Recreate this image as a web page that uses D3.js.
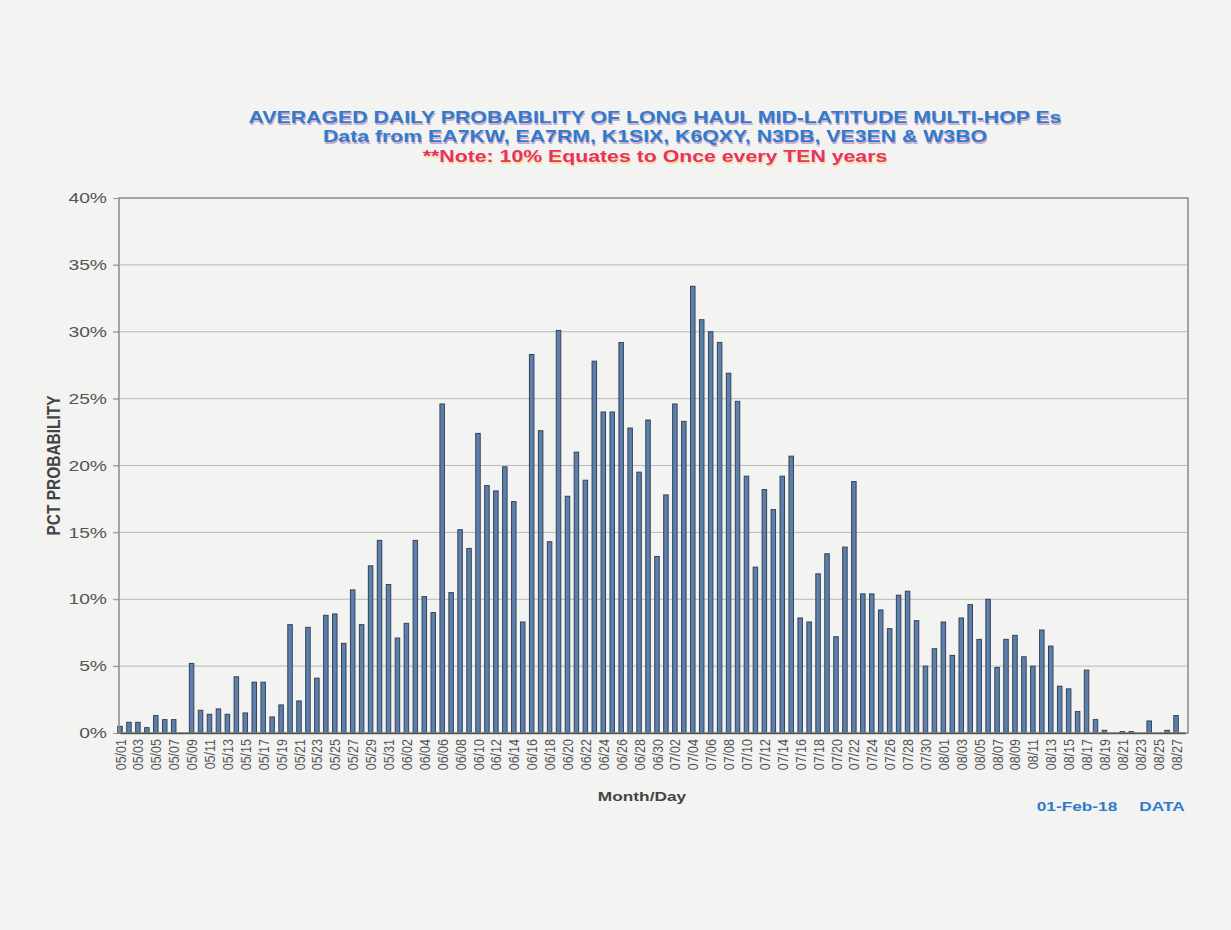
<!DOCTYPE html>
<html>
<head>
<meta charset="utf-8">
<script src="https://cdn.jsdelivr.net/npm/d3@7"></script>
<style>
  body { margin: 0; background: #f3f3f2; }
  svg { display: block; font-family: Arial, "Liberation Sans", sans-serif; }
</style>
</head>
<body>
<svg id="chart"></svg>
<script>
// days 05/01 .. 08/28
const months = ["05", "06", "07", "08"];
const monthDays = [31, 30, 31, 28];

// averaged daily probability, percent
const mayValues = [0.5, 0.8, 0.8, 0.4, 1.3, 1.0, 1.0, 0, 5.2, 1.7, 1.4, 1.8, 1.4, 4.2, 1.5, 3.8,
  3.8, 1.2, 2.1, 8.1, 2.4, 7.9, 4.1, 8.8, 8.9, 6.7, 10.7, 8.1, 12.5, 14.4, 11.1];
const juneValues = [7.1, 8.2, 14.4, 10.2, 9.0, 24.6, 10.5, 15.2, 13.8, 22.4, 18.5, 18.1, 19.9, 17.3, 8.3,
  28.3, 22.6, 14.3, 30.1, 17.7, 21.0, 18.9, 27.8, 24.0, 24.0, 29.2, 22.8, 19.5, 23.4, 13.2];
const julyValues = [17.8, 24.6, 23.3, 33.4, 30.9, 30.0, 29.2, 26.9, 24.8, 19.2, 12.4, 18.2, 16.7, 19.2, 20.7,
  8.6, 8.3, 11.9, 13.4, 7.2, 13.9, 18.8, 10.4, 10.4, 9.2, 7.8, 10.3, 10.6, 8.4, 5.0, 6.3];
const augustValues = [8.3, 5.8, 8.6, 9.6, 7.0, 10.0, 4.9, 7.0, 7.3, 5.7, 5.0, 7.7, 6.5, 3.5, 3.3, 1.6,
  4.7, 1.0, 0.2, 0, 0.1, 0.1, 0, 0.9, 0, 0.2, 1.3, 0];

const yTicks = [0, 5, 10, 15, 20, 25, 30, 35, 40];

const titleLine1 = "AVERAGED DAILY PROBABILITY OF LONG HAUL MID-LATITUDE MULTI-HOP Es";
const titleLine2 = "Data from EA7KW, EA7RM, K1SIX, K6QXY, N3DB, VE3EN & W3BO";
const noteLine = "**Note: 10% Equates to Once every TEN years";

const width = 1231, height = 930;
// the printed lettering is wider than plain Arial
const stretch = 1.33;

// build day labels + values table
const days = [];
months.forEach((m, i) => {
    for (let d = 1; d <= monthDays[i]; d++) days.push(m + "/" + String(d).padStart(2, "0"));
});
const allValues = [].concat(mayValues, juneValues, julyValues, augustValues);
const data = days.map((d, i) => ({ day: d, value: allValues[i] }));

const svg = d3.select("#chart")
    .attr("width", width)
    .attr("height", height)
    .attr("viewBox", [0, 0, width, height]);

const plot = { left: 119, right: 1188, top: 198, bottom: 733 };

// x: one slot per day, first day sits on the axis
const x_scale = d3.scalePoint().domain(days).range([plot.left + 1, plot.right - 3]);
const y_scale = d3.scaleLinear().domain([0, 40]).range([plot.bottom, plot.top]);

// gridlines
svg.append("g")
    .selectAll("line")
    .data(yTicks.filter(t => t > 0 && t < 40))
    .join("line")
    .attr("x1", plot.left - 6).attr("x2", plot.right)
    .attr("y1", d => y_scale(d)).attr("y2", d => y_scale(d))
    .attr("stroke", "#b8b8b8").attr("stroke-width", 1);

// y axis
const y_axis = d3.axisLeft(y_scale).tickValues(yTicks).tickSize(6).tickPadding(6)
    .tickFormat(d => d + "%");
const gY = svg.append("g")
    .attr("transform", `translate(${plot.left}, 0)`)
    .call(y_axis);
gY.select(".domain").remove();
gY.selectAll(".tick line").attr("stroke", "#999");
gY.selectAll("text")
    .attr("x", -12 / stretch)
    .attr("transform", `scale(${stretch},1)`)
    .style("font-size", "14.5px").attr("fill", "#555");

// bars
const barWidth = 4.5;
svg.append("g")
    .selectAll("rect")
    .data(data.filter(d => d.value > 0))
    .join("rect")
    .attr("x", d => x_scale(d.day) - barWidth / 2)
    .attr("y", d => y_scale(d.value))
    .attr("width", barWidth)
    .attr("height", d => y_scale(0) - y_scale(d.value))
    .attr("fill", "#5d7fab")
    .attr("stroke", "#34435a")
    .attr("stroke-width", 1);

// plot border
svg.append("rect")
    .attr("x", plot.left).attr("y", plot.top)
    .attr("width", plot.right - plot.left).attr("height", plot.bottom - plot.top)
    .attr("fill", "none").attr("stroke", "#8a8a8a").attr("stroke-width", 1.5);

// x axis, every other day labelled
const x_axis = d3.axisBottom(x_scale)
    .tickValues(days.filter((d, i) => i % 2 === 0))
    .tickSize(0).tickPadding(0);
const gX = svg.append("g")
    .attr("transform", `translate(0, ${plot.bottom})`)
    .call(x_axis);
gX.select(".domain").attr("stroke", "#555").attr("stroke-width", 1.5);
gX.selectAll("text")
    .attr("transform", "scale(1.15,1) rotate(-90)")
    .attr("x", -6).attr("y", 0).attr("dy", "0.35em")
    .attr("text-anchor", "end")
    .style("font-size", "12.5px")
    .attr("fill", "#555");

// horizontal text, widened around its anchor point
function wideText(txt, x, y, size, color) {
    return svg.append("text")
        .attr("transform", `translate(${x},${y}) scale(${stretch},1)`)
        .attr("text-anchor", "middle")
        .style("font-size", size + "px").style("font-weight", "bold")
        .attr("fill", color)
        .text(txt);
}

// axis titles
wideText("Month/Day", 642, 801, 13, "#444");

svg.append("text")
    .attr("transform", `translate(60, ${(plot.top + plot.bottom) / 2}) scale(1.15,1) rotate(-90)`)
    .attr("text-anchor", "middle")
    .style("font-size", "15.5px").style("font-weight", "bold")
    .attr("fill", "#444")
    .text("PCT PROBABILITY");

// titles with a soft shadow like the print
function shadowText(txt, y, color, shadow) {
    wideText(txt, 656, y + 1.5, 16, shadow).attr("opacity", 0.55);
    wideText(txt, 655, y, 16, color);
}
shadowText(titleLine1, 123, "#2f7ccc", "#b06aa8");
shadowText(titleLine2, 142, "#2f7ccc", "#b06aa8");
shadowText(noteLine, 162, "#e8306a", "#f2d23a");

// footer
wideText("01-Feb-18", 1077, 811, 13, "#2f7ccc");
wideText("DATA", 1162, 811, 13, "#2f7ccc");
</script>
</body>
</html>
